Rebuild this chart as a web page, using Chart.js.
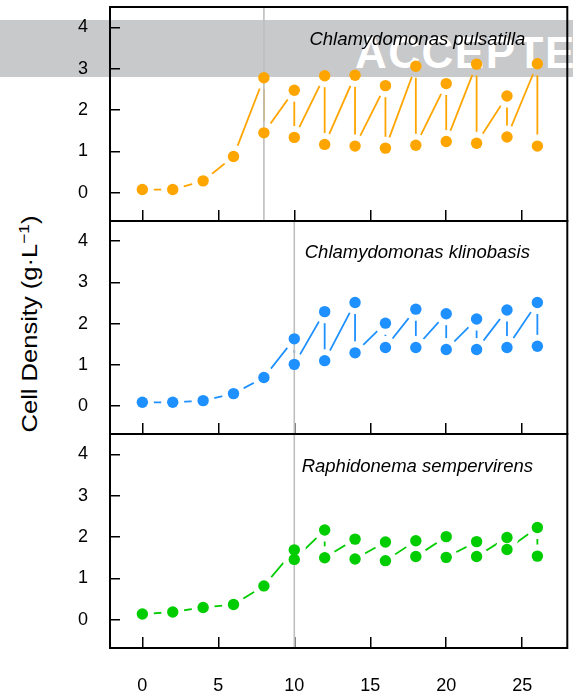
<!DOCTYPE html>
<html>
<head>
<meta charset="utf-8">
<script src="https://cdn.jsdelivr.net/npm/chart.js@4.4.1/dist/chart.umd.min.js"></script>
<style>
  body { margin: 0; background: #fff; }
  #wrap { position: relative; width: 573px; height: 698px; overflow: hidden; font-family: 'Liberation Sans', Arial, sans-serif; }
  #banner { position: absolute; left: 0; top: 20px; width: 573px; height: 57px; background: #c8c9cb; }
  #banner span { position: absolute; left: 355px; top: 11px; color: #fff; font-weight: bold; font-size: 44px; line-height: 44px; letter-spacing: 1.5px; white-space: nowrap; }
  canvas { position: absolute; left: 0; top: 0; }
  #ytitle { position: absolute; left: 29px; top: 324px; transform: translate(-50%, -50%) rotate(-90deg) scaleX(1.16); font-size: 22px; white-space: nowrap; color: #000; }
  #ytitle sup { font-size: 15px; }
</style>
</head>
<body>
<div id="wrap">
  <div id="banner"><span>ACCEPTED</span></div>
  <div id="ytitle">Cell Density (g·L<sup>−1</sup>)</div>
</div>
<script>
const days = [0, 2, 4, 6, 8, 10, 12, 14, 16, 18, 20, 22, 24, 26];
const xTicks = [0, 5, 10, 15, 20, 25];
const yTicks = [0, 1, 2, 3, 4];
const species = ['Chlamydomonas pulsatilla', 'Chlamydomonas klinobasis', 'Raphidonema sempervirens'];
const firstDilution = [8, 10, 10];

// density measured before dilution / right after dilution (g/L)
const pulsatillaBefore = [0.08, 0.08, 0.29, 0.88, 2.78, 2.48, 2.83, 2.84, 2.59, 3.06, 2.64, 3.11, 2.34, 3.12];
const pulsatillaAfter = [null, null, null, null, 1.45, 1.34, 1.17, 1.13, 1.08, 1.15, 1.24, 1.20, 1.35, 1.13];
const klinobasisBefore = [0.09, 0.09, 0.13, 0.30, 0.69, 1.63, 2.29, 2.51, 2.01, 2.35, 2.24, 2.11, 2.33, 2.51];
const klinobasisAfter = [null, null, null, null, null, 1.01, 1.10, 1.29, 1.42, 1.42, 1.37, 1.37, 1.42, 1.45];
const sempervirensBefore = [0.14, 0.19, 0.30, 0.37, 0.82, 1.69, 2.17, 1.95, 1.88, 1.91, 2.01, 1.89, 1.99, 2.23];
const sempervirensAfter = [null, null, null, null, null, 1.46, 1.50, 1.47, 1.43, 1.53, 1.51, 1.53, 1.70, 1.54];

const colours = ['#ffa500', '#1e90ff', '#00cd00'];
const panelTop = [7, 221, 434];
const panelBottom = [221, 434, 648];
const tickFont = {family: "'Liberation Sans', Arial, sans-serif", size: 18};

function sampleSeries(before, after) {
    let pts = [];
    days.forEach((d, i) => {
        pts.push({x: d, y: before[i]});
        if (after[i] !== null) pts.push({x: d, y: after[i]});
    });
    return pts;
}

// gaps round the points (like R type="b"), dilution line, frame and species name
const panelDecor = {
    id: 'panelDecor',
    afterDatasetDraw(chart, args, opts) {
        if (args.index !== 1) return;
        let ctx = chart.ctx;
        let area = chart.chartArea;
        ctx.save();
        ctx.globalCompositeOperation = 'destination-out';
        args.meta.data.forEach(p => {
            ctx.beginPath();
            ctx.arc(p.x, p.y, 11.5, 0, Math.PI * 2);
            ctx.fill();
        });
        ctx.restore();

        let x = chart.scales.x.getPixelForValue(opts.dilution);
        ctx.save();
        ctx.strokeStyle = '#bebebe';
        ctx.lineWidth = 1.6;
        ctx.beginPath();
        ctx.moveTo(x, area.top);
        ctx.lineTo(x, area.bottom);
        ctx.stroke();
        ctx.restore();
    },
    afterDatasetsDraw(chart, args, opts) {
        let ctx = chart.ctx;
        let area = chart.chartArea;
        ctx.save();
        ctx.strokeStyle = '#000';
        ctx.lineWidth = 2;
        ctx.strokeRect(area.left, area.top, area.right - area.left, area.bottom - area.top);
        ctx.fillStyle = '#000';
        ctx.font = "italic 18.5px 'Liberation Sans', Arial, sans-serif";
        ctx.textAlign = 'center';
        ctx.textBaseline = 'alphabetic';
        ctx.fillText(opts.name, chart.scales.x.getPixelForValue(18.1), chart.scales.y.getPixelForValue(3.58));
        ctx.restore();
    }
};

function makePanel(i, before, after) {
    let wrap = document.getElementById('wrap');
    let canvas = document.createElement('canvas');
    canvas.width = 573;
    canvas.height = 698;
    wrap.appendChild(canvas);
    let last = i === 2;
    let pts = sampleSeries(before, after);

    new Chart(canvas, {
        type: 'scatter',
        data: {
            datasets: [
                {data: pts, showLine: false, pointRadius: 5.7, pointHoverRadius: 5.7,
                 pointBackgroundColor: colours[i], pointBorderWidth: 0, borderColor: colours[i]},
                {data: pts, showLine: true, borderColor: colours[i], borderWidth: 1.8,
                 pointRadius: 0, pointHoverRadius: 0, fill: false, tension: 0}
            ]
        },
        options: {
            responsive: false,
            animation: false,
            devicePixelRatio: 1,
            events: [],
            layout: {padding: {top: panelTop[i], bottom: last ? 0 : 698 - panelBottom[i], left: 0, right: 1}},
            plugins: {
                legend: {display: false},
                tooltip: {enabled: false},
                panelDecor: {dilution: firstDilution[i], name: species[i]}
            },
            scales: {
                x: {
                    type: 'linear', min: -2.13, max: 27.97,
                    afterBuildTicks: s => { s.ticks = xTicks.map(v => ({value: v})); },
                    afterFit: s => { s.height = last ? 50 : 0; s.paddingLeft = 0; s.paddingRight = 0; },
                    grid: {drawOnChartArea: false, tickLength: -11, color: '#000', lineWidth: 1.5},
                    border: {display: false},
                    ticks: {display: last, padding: 38, color: '#000', font: tickFont, maxRotation: 0}
                },
                y: {
                    type: 'linear', min: -0.68, max: 4.49,
                    afterBuildTicks: s => { s.ticks = yTicks.map(v => ({value: v})); },
                    afterFit: s => { s.width = 110; s.paddingTop = 0; s.paddingBottom = 0; },
                    grid: {drawOnChartArea: false, tickLength: -10, color: '#000', lineWidth: 1.5},
                    border: {display: false},
                    ticks: {padding: 32, color: '#000', font: tickFont}
                }
            }
        },
        plugins: [panelDecor]
    });
}

makePanel(0, pulsatillaBefore, pulsatillaAfter);
makePanel(1, klinobasisBefore, klinobasisAfter);
makePanel(2, sempervirensBefore, sempervirensAfter);
</script>
</body>
</html>
